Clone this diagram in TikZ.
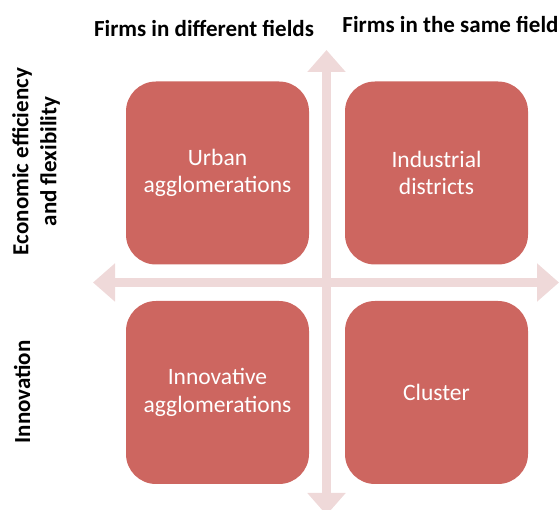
\documentclass[tikz,border=0pt]{standalone}
\usepackage{fontspec}
\setmainfont{Carlito}
\usetikzlibrary{arrows.meta}
\definecolor{boxred}{RGB}{205,102,96}
\definecolor{axispink}{RGB}{239,217,217}
\tikzset{
  quad/.style={fill=boxred, draw=none, rounded corners=30pt, minimum width=183pt, minimum height=183pt, inner sep=0pt, text=white, align=center, font=\fontsize{23.5}{27.5}\selectfont},
  axis/.style={draw=axispink, line width=9pt, {Triangle[length=22pt,width=37pt]}-{Triangle[length=22pt,width=37pt]}},
  head/.style={font=\bfseries\fontsize{23}{28}\selectfont, text=black, inner sep=0pt},
}
\begin{document}
\begin{tikzpicture}[x=1pt,y=-1pt]
\useasboundingbox (0,0) rectangle (560,510);
\coordinate (vtop) at (326.5,50);
\coordinate (vbot) at (326.5,515);
\coordinate (hleft) at (93,282.5);
\coordinate (hright) at (559,282.5);
\draw[axis] (vtop) -- (vbot);
\draw[axis] (hleft) -- (hright);
\node[quad] (ua) at (217.5,173) {Urban\\agglomerations};
\node[quad] (id) at (436.5,173) {Industrial\\districts};
\node[quad] (ia) at (217.5,392.5) {Innovative\\agglomerations};
\node[quad] (cl) at (436.5,392.5) {Cluster};
\node[head, anchor=base] (h1) at (204,37) {Firms in different fields};
\node[head, anchor=base] (h2) at (450.5,33) {Firms in the same field};
\node[head, rotate=90, align=center] (l1) at (36,161.5) {Economic efficiency\\and flexibility};
\node[head, rotate=90] (l2) at (22,392) {Innovation};
\end{tikzpicture}
\end{document}
